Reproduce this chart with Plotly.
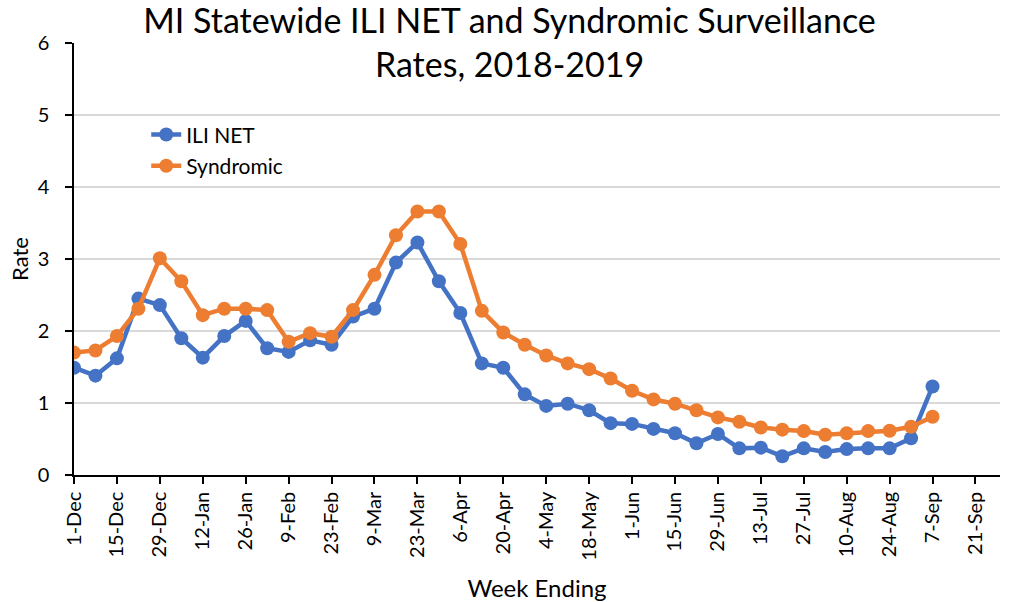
import plotly.graph_objects as go

week_ending = [
    "2018-12-01", "2018-12-08", "2018-12-15", "2018-12-22", "2018-12-29",
    "2019-01-05", "2019-01-12", "2019-01-19", "2019-01-26", "2019-02-02",
    "2019-02-09", "2019-02-16", "2019-02-23", "2019-03-02", "2019-03-09",
    "2019-03-16", "2019-03-23", "2019-03-30", "2019-04-06", "2019-04-13",
    "2019-04-20", "2019-04-27", "2019-05-04", "2019-05-11", "2019-05-18",
    "2019-05-25", "2019-06-01", "2019-06-08", "2019-06-15", "2019-06-22",
    "2019-06-29", "2019-07-06", "2019-07-13", "2019-07-20", "2019-07-27",
    "2019-08-03", "2019-08-10", "2019-08-17", "2019-08-24", "2019-08-31",
    "2019-09-07",
]

ili_net = [
    1.49, 1.38, 1.62, 2.45, 2.36, 1.90, 1.63, 1.93, 2.14, 1.76,
    1.71, 1.87, 1.81, 2.20, 2.31, 2.95, 3.23, 2.69, 2.25, 1.55,
    1.49, 1.12, 0.96, 0.99, 0.90, 0.72, 0.71, 0.64, 0.58, 0.44,
    0.57, 0.37, 0.38, 0.26, 0.37, 0.32, 0.36, 0.37, 0.37, 0.51,
    1.23,
]

syndromic = [
    1.70, 1.73, 1.93, 2.31, 3.01, 2.69, 2.22, 2.31, 2.31, 2.29,
    1.85, 1.97, 1.92, 2.29, 2.78, 3.33, 3.66, 3.66, 3.21, 2.28,
    1.98, 1.81, 1.66, 1.55, 1.47, 1.34, 1.17, 1.05, 0.99, 0.90,
    0.80, 0.74, 0.66, 0.63, 0.61, 0.56, 0.58, 0.61, 0.615, 0.67,
    0.81,
]

x_range = ["2018-12-01", "2019-09-29"]
y_ticks = [0, 1, 2, 3, 4, 5, 6]

FONT = "Lato, 'Open Sans', sans-serif"
BLUE = "#4472C4"
ORANGE = "#ED7D31"
TWO_WEEKS = 14 * 24 * 3600 * 1000

fig = go.Figure()
fig.add_trace(go.Scatter(
    x=week_ending, y=ili_net, name="ILI NET", mode="lines+markers",
    line=dict(color=BLUE, width=4.5), marker=dict(color=BLUE, size=14),
    legendgroup="a",
))
fig.add_trace(go.Scatter(
    x=week_ending, y=syndromic, name="Syndromic", mode="lines+markers",
    line=dict(color=ORANGE, width=4.5), marker=dict(color=ORANGE, size=14),
    legendgroup="b",
))

fig.update_layout(
    width=1009, height=602,
    margin=dict(l=74, r=9, t=43, b=127),
    paper_bgcolor="white", plot_bgcolor="white",
    font=dict(family=FONT, color="black"),
    title=dict(
        text="MI Statewide ILI NET and Syndromic Surveillance<br>Rates, 2018-2019",
        x=0.505, xanchor="center", y=0.945, yanchor="top",
        font=dict(size=34, color="black", family=FONT),
        automargin=False,
    ),
    showlegend=True,
    legend=dict(
        x=0.078, y=0.835, xanchor="left", yanchor="top",
        font=dict(size=21, color="black"),
        bgcolor="rgba(0,0,0,0)",
        traceorder="grouped", tracegroupgap=1,
    ),
    xaxis=dict(
        type="date", range=x_range, tick0="2018-12-01", dtick=TWO_WEEKS,
        tickformat="%-d-%b", tickangle=-90,
        tickfont=dict(size=20, color="black"),
        showline=True, linecolor="black", linewidth=1.5,
        ticks="outside", ticklen=7, tickcolor="black", tickwidth=1.5,
        showgrid=False, zeroline=False, automargin=False,
        title=dict(text="Week Ending", font=dict(size=24, color="black"), standoff=22),
    ),
    yaxis=dict(
        range=[0, 6], tickvals=y_ticks,
        tickfont=dict(size=20, color="black"),
        showline=True, linecolor="black", linewidth=1.5,
        ticks="outside", ticklen=7, tickcolor="black", tickwidth=1.5,
        ticklabelstandoff=12,
        showgrid=True, gridcolor="#d9d9d9", gridwidth=1.5,
        zeroline=False, automargin=False,
        title=dict(text="Rate", font=dict(size=22, color="black"), standoff=3),
    ),
    xaxis2=dict(
        type="date", range=x_range, tick0="2018-12-01", dtick=TWO_WEEKS,
        overlaying="x", anchor="y", side="bottom",
        ticks="inside", ticklen=7, tickcolor="black", tickwidth=1.5,
        showticklabels=False, showgrid=False, zeroline=False, showline=False,
        automargin=False,
    ),
    yaxis2=dict(
        range=[0, 6], tickvals=y_ticks,
        overlaying="y", anchor="x", side="left",
        ticks="inside", ticklen=7, tickcolor="black", tickwidth=1.5,
        showticklabels=False, showgrid=False, zeroline=False, showline=False,
        automargin=False,
    ),
)

fig.write_html(
    "out.html",
    config={"displayModeBar": False},
    post_script="document.body.style.margin='0';",
)
